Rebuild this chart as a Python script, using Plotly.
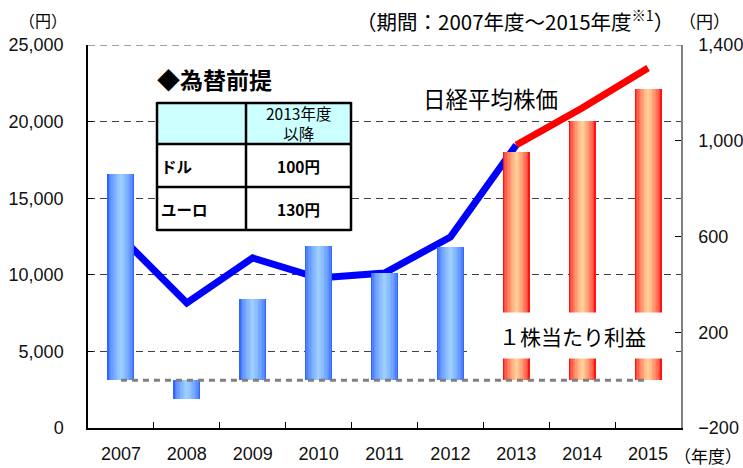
import plotly.graph_objects as go

# ---------------- data ----------------
years = ["2007", "2008", "2009", "2010", "2011", "2012", "2013", "2014", "2015"]
nikkei = [12470, 8160, 11100, 9790, 10117, 12467, 18470, 20890, 23500]   # 日経平均株価 (left axis)
eps = [860, -77, 338, 560, 447, 555, 952, 1081, 1215]                    # 1株当たり利益 (right axis)
forecast = [False, False, False, False, False, False, True, True, True]
zero_line = [0] * len(years)

left_ticks = [0, 5000, 10000, 15000, 20000, 25000]
right_ticks = [-200, 200, 600, 1000, 1400]

table_header = ["", "2013年度<br>以降"]
table_rows = [["ドル", "100円"], ["ユーロ", "130円"]]

# ---------------- layout helpers ----------------
W, H = 743, 468
L, R, T, B = 88, 681, 45, 428


def px(x):
    return (x - L) / (R - L)


def py(y):
    return (B - y) / (B - T)


def mix(c1, c2, t):
    return "rgb({},{},{})".format(*[round(a + (b - a) * t) for a, b in zip(c1, c2)])


BLUE_EDGE, BLUE_MID = (51, 102, 255), (156, 206, 255)
RED_EDGE, RED_MID = (255, 20, 20), (255, 206, 153)

NUM_FONT = "Liberation Sans, Arial, Noto Sans CJK JP, sans-serif"
JP_FONT = "Noto Sans CJK JP, sans-serif"

fig = go.Figure()

# gradient bars (overlaid layers, widest = darkest)
N = 10
full_w = 0.41
for k in range(N):
    t = (k / (N - 1)) ** 0.6
    w = full_w * (1 - k / N)
    cols = [mix(RED_EDGE, RED_MID, t) if f else mix(BLUE_EDGE, BLUE_MID, t) for f in forecast]
    fig.add_trace(go.Bar(x=years, y=eps, width=w, marker=dict(color=cols, line=dict(width=0)),
                         yaxis="y2", hoverinfo="skip", showlegend=False))

# zero line of EPS
fig.add_trace(go.Scatter(x=years, y=zero_line, yaxis="y2", mode="lines",
                         line=dict(color="#808080", width=3, dash="6px,5px"),
                         hoverinfo="skip", showlegend=False))

# Nikkei lines: actual (blue) and forecast (red)
first_fc = forecast.index(True)
fig.add_trace(go.Scatter(x=years[:first_fc + 1], y=nikkei[:first_fc + 1], mode="lines",
                         line=dict(color="#0000ff", width=7), hoverinfo="skip", showlegend=False))
fig.add_trace(go.Scatter(x=years[first_fc:], y=nikkei[first_fc:], mode="lines",
                         line=dict(color="#ff0000", width=7), hoverinfo="skip", showlegend=False))

shapes = []
annotations = []

# top gridline (at the range edge, not drawn by plotly's grid)
shapes.append(dict(type="line", xref="paper", yref="y", x0=0, x1=1, y0=left_ticks[-1], y1=left_ticks[-1],
                   layer="below", line=dict(color="#404040", width=1, dash="7px,5px")))

# exchange rate table
col_edges = [157, 246, 351]
row_edges = [103, 144, 187, 230]
shapes.append(dict(type="rect", xref="paper", yref="paper", layer="above",
                   x0=px(col_edges[0]), x1=px(col_edges[-1]), y0=py(row_edges[-1]), y1=py(row_edges[0]),
                   fillcolor="white", line=dict(width=0)))
shapes.append(dict(type="rect", xref="paper", yref="paper", layer="above",
                   x0=px(col_edges[0]), x1=px(col_edges[-1]), y0=py(row_edges[1]), y1=py(row_edges[0]),
                   fillcolor="#ccffff", line=dict(width=0)))
for xe in col_edges:
    shapes.append(dict(type="line", xref="paper", yref="paper", layer="above",
                       x0=px(xe), x1=px(xe), y0=py(row_edges[-1] + 1), y1=py(row_edges[0] - 1),
                       line=dict(color="black", width=2.5)))
for ye in row_edges:
    shapes.append(dict(type="line", xref="paper", yref="paper", layer="above",
                       x0=px(col_edges[0]), x1=px(col_edges[-1]), y0=py(ye), y1=py(ye),
                       line=dict(color="black", width=2.5)))


def note(text, x, y, size, family=JP_FONT, xanchor="center", **kw):
    annotations.append(dict(text=text, xref="paper", yref="paper", x=px(x), y=py(y),
                            xanchor=xanchor, yanchor="middle", showarrow=False,
                            font=dict(family=family, size=size, color="black"), **kw))


note(table_header[1], (col_edges[1] + col_edges[2]) / 2, (row_edges[0] + row_edges[1]) / 2, 15.5,
     align="center")
for i, (name, val) in enumerate(table_rows):
    yc = (row_edges[i + 1] + row_edges[i + 2]) / 2
    note("<b>" + name + "</b>", col_edges[0] + 2, yc, 15.5, xanchor="left")
    note("<b>" + val + "</b>", (col_edges[1] + col_edges[2]) / 2, yc, 15.5)

note("<b>◆為替前提</b>", 155, 79, 23, xanchor="left")

# series labels
note("日経平均株価", 490, 98, 22.5)
note("１株当たり利益", 572.5, 335.5, 21, bgcolor="white", width=199, height=43)

# axis titles / notes
note("（円）", 43, 20, 16)
note("（期間：2007年度～2015年度<sup>※1</sup>）", 676, 20, 20.5, xanchor="right")
note("（円）", 704, 20, 17)
note("（年度）", 672, 456, 17, xanchor="left")

fig.update_layout(
    width=W, height=H,
    margin=dict(l=L, r=W - R, t=T, b=H - B, pad=0, autoexpand=False),
    paper_bgcolor="white", plot_bgcolor="white",
    barmode="overlay", bargap=0,
    showlegend=False,
    font=dict(family=NUM_FONT, size=18, color="#111"),
    xaxis=dict(type="category", range=[-0.5, len(years) - 0.5], showgrid=False, automargin=False,
               showline=True, linecolor="black", linewidth=1.5,
               ticks="inside", tickson="boundaries", ticklen=6, tickcolor="black",
               tickfont=dict(family=NUM_FONT, size=18), ticklabelstandoff=9),
    yaxis=dict(range=[left_ticks[0], left_ticks[-1]], tickvals=left_ticks, tickformat=",",
               showgrid=True, gridcolor="#404040", gridwidth=1, griddash="7px,5px", automargin=False,
               showline=True, linecolor="black", linewidth=1.5,
               ticks="inside", ticklen=5, tickcolor="black", zeroline=False,
               tickfont=dict(family=NUM_FONT, size=18), ticklabelstandoff=19),
    yaxis2=dict(range=[right_ticks[0], right_ticks[-1]], tickvals=right_ticks, tickformat=",",
                overlaying="y", side="right", showgrid=False, zeroline=False, automargin=False,
                showline=True, linecolor="#808080", linewidth=1.5,
                ticks="inside", ticklen=6, tickcolor="black",
                tickfont=dict(family=NUM_FONT, size=18), ticklabelstandoff=12),
    shapes=shapes,
    annotations=annotations,
)

fig.write_html("out.html", config={"displayModeBar": False},
               post_script="document.body.style.margin='0';")
